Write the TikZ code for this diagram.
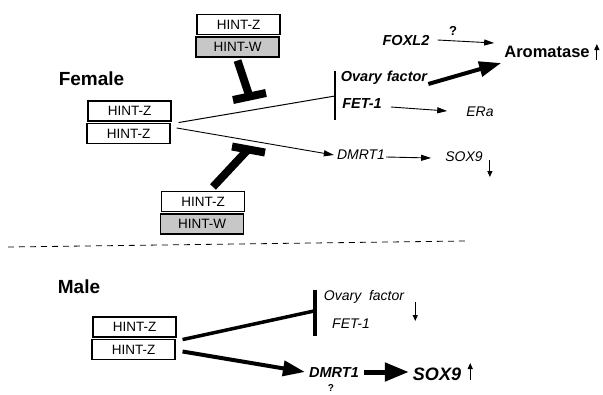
\documentclass[tikz,border=0pt]{standalone}
\usepackage{fontspec}
\setmainfont{Liberation Sans}
\usepackage{tikz}
\usetikzlibrary{calc,arrows.meta}
\tikzset{x=1pt, y=-1pt,
  hint/.style={draw, line width=1.1pt, minimum width=83pt, minimum height=20pt,
        inner sep=0pt, font=\fontsize{13.5}{14}\selectfont},
  hintw/.style={hint, fill=black!22},
  sexlabel/.style={font=\fontsize{19}{20}\selectfont\bfseries},
  gene/.style={inner sep=1pt, font=\fontsize{14}{15}\selectfont\itshape},
  genebf/.style={inner sep=1pt, font=\fontsize{14.5}{15}\selectfont\bfseries\itshape},
  thin arrow/.style={line width=0.9pt, -{Triangle[length=10pt,width=6pt]}},
  fat arrow/.style={line width=4pt, -{Triangle[length=22pt,width=15pt]}},
  small arrow/.style={line width=1.1pt, -{Triangle[length=6pt,width=5pt]}},
  block/.style={line width=8pt, line cap=butt},
  help dash/.style={draw=black, line width=0.8pt, dash pattern=on 6pt off 5pt}
}
% two stacked HINT boxes: name, x, y, style of the lower box, its text
\def\HintPair#1#2#3#4#5{%
  \node[hint] (#1A) at (#2,#3) {HINT-Z};
  \node[#4] (#1B) at ($(#2,#3)+(-1,22.5)$) {#5};
}
\begin{document}
\begin{tikzpicture}
\useasboundingbox (0,0) rectangle (603,394);

% female
\node[sexlabel] (female) at (91.5,79) {Female};
\HintPair{ftop}{238.5}{24.5}{hintw}{HINT-W}
\HintPair{fz}{129.5}{111}{hint}{HINT-Z}
\HintPair{fbot}{203}{201.5}{hintw}{HINT-W}

\node[genebf] (foxl) at (406,41) {FOXL2};
\node[font=\fontsize{13}{14}\selectfont\bfseries] (fq) at (453,31) {?};
\node[font=\fontsize{16.5}{17}\selectfont\bfseries, inner sep=1pt] (arom) at (547,52) {Aromatase};
\node[genebf] (fovary) at (384,78) {Ovary\,\,factor};
\node[genebf] (ffet) at (362,104) {FET-1};
\node[gene] (era) at (480,112) {ERa};
\node[gene] (fdmrt) at (361,155) {DMRT1};
\node[gene] (fsox) at (464,157) {SOX9};

\coordinate (fbar) at (335,96);
\coordinate (fbarT) at (335,71);
\coordinate (fbarB) at (335,120);
\draw[line width=1pt] ($(fzA.south east)+(7,1)$) -- (fbar);
\draw[line width=1.2pt] (fbarT) -- (fbarB);
\draw[thin arrow] ($(fzB.north east)+(6,5)$) -- ($(fdmrt.west)+(-2,0)$);

\coordinate (ftopT) at (249.5,96.5);
\draw[block] ($(ftopB.south)+(0,3)$) -- (ftopT);
\draw[block] ($(ftopT)+(-16.5,3.5)$) -- ($(ftopT)+(16.5,-3.5)$);
\coordinate (fbotT) at (248,149.5);
\draw[block] ($(fbotA.north)+(10,-4)$) -- (fbotT);
\draw[block] ($(fbotT)+(-16,-3)$) -- ($(fbotT)+(17,3)$);

\draw[thin arrow] ($(foxl.east)+(7,-1)$) -- ($(arom.west)+(-9,-9)$);
\draw[fat arrow] ($(fovary.east)+(0,6)$) -- ($(arom.west)+(-2,11)$);
\draw[thin arrow] ($(ffet.east)+(8,3)$) -- ($(era.west)+(-18,-1)$);
\draw[thin arrow] ($(fdmrt.east)+(0,2)$) -- ($(fsox.west)+(-13,1)$);
\draw[small arrow] ($(arom.east)+(6,8)$) -- ($(arom.east)+(6,-8)$);
\draw[small arrow] ($(fsox.east)+(6,3)$) -- ($(fsox.east)+(6,20)$);

% divider
\draw[help dash] (8,247) -- (465,241);

% male
\node[sexlabel] (male) at (79,287) {Male};
\HintPair{mz}{134.5}{327}{hint}{HINT-Z}
\node[gene] (movary) at (364,297) {Ovary\ \ factor};
\node[gene] (mfet) at (351,324) {FET-1};
\node[genebf] (mdmrt) at (334,373) {DMRT1};
\node[font=\fontsize{18}{19}\selectfont\bfseries\itshape, inner sep=1pt] (msox) at (437,374) {SOX9};
\node[font=\fontsize{10}{11}\selectfont\bfseries, inner sep=0pt] (mq) at (331,388) {?};

\coordinate (mbar) at (314,311);
\coordinate (mbarT) at (315,290);
\coordinate (mbarB) at (315,336);
\draw[line width=3.5pt] ($(mzA.south east)+(6,2)$) -- (mbar);
\draw[line width=4pt] (mbarT) -- (mbarB);
\draw[fat arrow] ($(mzB.east)+(7,2)$) -- ($(mdmrt.west)+(-3,-1)$);
\draw[line width=5pt, -{Triangle[length=24pt,width=18pt]}] ($(mdmrt.east)+(4,-1)$) -- ($(msox.west)+(-3,-2)$);
\draw[small arrow] ($(movary.east)+(10,5)$) -- ($(movary.east)+(10,24)$);
\draw[small arrow] ($(msox.east)+(8,6)$) -- ($(msox.east)+(8,-11)$);
\end{tikzpicture}
\end{document}
